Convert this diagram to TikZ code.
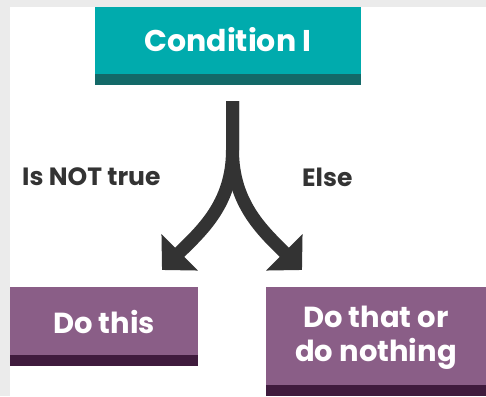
\documentclass[tikz,border=0pt]{standalone}
\usepackage{fontspec}
\setmainfont{Poppins}
\usepackage{tikz}
\usetikzlibrary{arrows.meta, positioning, calc}
\definecolor{condteal}{HTML}{00ABAD}
\definecolor{conddark}{HTML}{136968}
\definecolor{actpurple}{HTML}{8A5E87}
\definecolor{actdark}{HTML}{3F1B3D}
\definecolor{arrowgray}{HTML}{333333}
\definecolor{pagegray}{HTML}{EBEBEB}

\begin{document}
\begin{tikzpicture}[
    x=1pt, y=1pt,
    condbox/.style={rectangle, fill=condteal, text=white, minimum width=266pt, minimum height=78pt, inner sep=0pt, align=center,
        font=\fontsize{30}{34}\selectfont\bfseries, text height=26pt, text depth=14pt,
        path picture={\fill[conddark] (path picture bounding box.south west) rectangle ([yshift=11pt]path picture bounding box.south east);}},
    actbox/.style={rectangle, fill=actpurple, text=white, inner sep=0pt, align=center,
        font=\fontsize{29}{34}\selectfont\bfseries,
        path picture={\fill[actdark] (path picture bounding box.south west) rectangle ([yshift=11pt]path picture bounding box.south east);}},
    branch/.style={draw=arrowgray, line width=13pt, -{Triangle[length=25pt, width=50pt]}},
    lbl/.style={text=arrowgray, font=\fontsize{25}{30}\selectfont\bfseries, inner sep=0pt}
]
\useasboundingbox (0,0) rectangle (486,-396);
\fill[pagegray] (0,0) rectangle (486,-396);
\fill[white] (10,-7) rectangle (486,-396);

% Condition
\node[condbox] (cond) at (228,-46) {Condition I};

% Actions
\node[actbox, minimum width=188pt, minimum height=79pt, text height=26.5pt, text depth=13.5pt] (dothis) at (104,-326.5) {Do this};
\node[actbox, minimum width=220pt, minimum height=109pt, text height=74pt, text depth=35pt] (dothat) at (376,-341.5) {Do that or\\do nothing};

% Branch points
\coordinate (stem) at (232.5,-101);
\coordinate (split) at (232.5,-150);
\coordinate (lefttip) at (162,-270);
\coordinate (righttip) at (302,-270);

% Connections
\draw[branch, line cap=butt] (stem) -- (split) to[out=-90, in=45] (lefttip);
\draw[branch, line cap=butt] (stem) -- (split) to[out=-90, in=135] (righttip);

% Labels
\node[lbl, anchor=west] (nottrue) at (22,-177) {Is NOT true};
\node[lbl, anchor=west] (else) at (302,-177) {Else};
\end{tikzpicture}
\end{document}
